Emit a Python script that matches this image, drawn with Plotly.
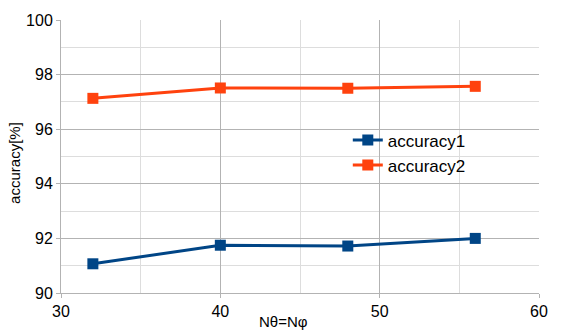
import plotly.graph_objects as go

n_values = [32, 40, 48, 56]
accuracy1 = [91.07, 91.75, 91.72, 92.0]
accuracy2 = [97.13, 97.51, 97.50, 97.57]
series_names = ["accuracy1", "accuracy2"]
colors = ["#004586", "#ff420e"]
x_title = "Nθ=Nφ"
y_title = "accuracy[%]"

FONT = "Liberation Sans, Arial, sans-serif"

fig = go.Figure()
for name, vals, col in zip(series_names, [accuracy1, accuracy2], colors):
    fig.add_trace(go.Scatter(
        x=n_values, y=vals, name=name, mode="lines+markers",
        line=dict(color=col, width=3),
        marker=dict(symbol="square", size=11, color=col),
    ))

axis_common = dict(
    showline=True, linecolor="#b3b3b3", linewidth=1,
    showgrid=True, gridcolor="#b3b3b3", gridwidth=1,
    ticks="outside", ticklen=4, tickcolor="#b3b3b3",
    tickfont=dict(family=FONT, size=16, color="#000000"),
    zeroline=False, mirror=False,
)

fig.update_xaxes(range=[30, 60], dtick=10, tick0=30,
                 minor=dict(dtick=5, showgrid=True, gridcolor="#dddddd"),
                 **axis_common)
fig.update_yaxes(range=[90, 100], dtick=2, tick0=90,
                 minor=dict(dtick=1, showgrid=True, gridcolor="#dddddd"),
                 **axis_common)

fig.add_annotation(text=x_title, xref="paper", yref="paper", x=0.466, y=-0.105,
                   xanchor="center", yanchor="middle", showarrow=False,
                   font=dict(family=FONT, size=15, color="#000000"))
fig.add_annotation(text=y_title, xref="paper", yref="paper", x=-0.096, y=0.477,
                   xanchor="center", yanchor="middle", showarrow=False, textangle=-90,
                   font=dict(family=FONT, size=15, color="#000000"))

fig.update_layout(
    width=568, height=332,
    margin=dict(l=61, r=29, t=16, b=39),
    plot_bgcolor="#ffffff", paper_bgcolor="#ffffff",
    showlegend=True,
    legend=dict(x=0.6, y=0.625, xanchor="left", yanchor="top",
                bgcolor="rgba(0,0,0,0)", tracegroupgap=0,
                font=dict(family=FONT, size=17, color="#000000")),
    font=dict(family=FONT),
)

fig.write_html("out.html")
